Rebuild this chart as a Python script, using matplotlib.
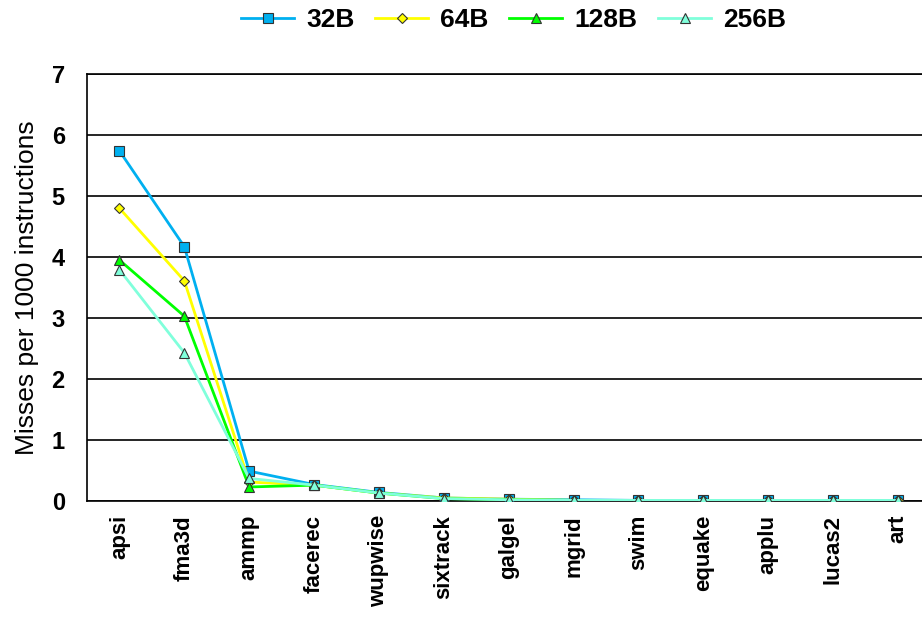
import numpy as np
import matplotlib.pyplot as plt

plt.rcParams['font.family'] = ['Liberation Sans', 'DejaVu Sans']

benchmarks = ["apsi", "fma3d", "ammp", "facerec", "wupwise", "sixtrack", "galgel",
              "mgrid", "swim", "equake", "applu", "lucas2", "art"]
miss_32b = [5.74, 4.17, 0.49, 0.27, 0.14, 0.05, 0.03, 0.02, 0.01, 0.01, 0.01, 0.01, 0.01]
miss_64b = [4.80, 3.61, 0.31, 0.26, 0.13, 0.05, 0.03, 0.01, 0.01, 0.01, 0.01, 0.01, 0.01]
miss_128b = [3.95, 3.03, 0.23, 0.26, 0.13, 0.04, 0.02, 0.01, 0.01, 0.01, 0.01, 0.01, 0.01]
miss_256b = [3.79, 2.43, 0.37, 0.26, 0.13, 0.04, 0.02, 0.01, 0.01, 0.01, 0.01, 0.01, 0.01]

series = [
    ("32B", miss_32b, "#00B0F0", "s", 6.5),
    ("64B", miss_64b, "#FFFF00", "D", 5),
    ("128B", miss_128b, "#00FF00", "^", 6.5),
    ("256B", miss_256b, "#80FFDB", "^", 6.5),
]

fig = plt.figure(figsize=(9.22, 6.36), dpi=100)
ax = fig.add_axes([87 / 922, 1 - 501 / 636, 835 / 922, 427 / 636])

x = np.arange(len(benchmarks))
for name, vals, color, marker, ms in series:
    ax.plot(x, vals, color=color, lw=2, marker=marker, ms=ms,
            markerfacecolor=color, markeredgecolor="#333333", markeredgewidth=0.8,
            label=name, zorder=3)

ax.set_ylim(0, 7)
ax.set_xlim(-0.5, 12.37)
ax.set_yticks(range(8))
ax.yaxis.grid(True, color="black", lw=1.2)
ax.set_axisbelow(True)
ax.set_xticks(x)
ax.set_xticklabels(benchmarks, rotation=90, fontsize=16, fontweight="bold")
for lab in ax.get_yticklabels():
    lab.set_fontsize(17)
    lab.set_fontweight("bold")
ax.tick_params(axis="y", length=0, pad=16)
ax.tick_params(axis="x", length=0, pad=10)
ax.spines["right"].set_visible(False)
for s in ["left", "top", "bottom"]:
    ax.spines[s].set_color("black")
    ax.spines[s].set_linewidth(1.2)
ax.set_ylabel("Misses per 1000 instructions", fontsize=19, labelpad=9)

fig.legend(loc="upper center", bbox_to_anchor=(0.557, 1.025), ncol=4, frameon=False,
           prop={"size": 19, "weight": "bold"}, handlelength=2.0,
           handletextpad=0.45, columnspacing=0.8)

fig.savefig("out.png", dpi=100)
